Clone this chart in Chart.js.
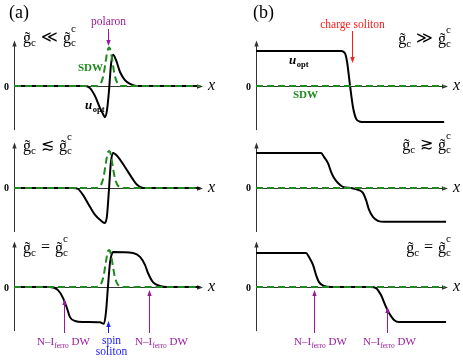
<!DOCTYPE html>
<html>
<head>
<meta charset="utf-8">
<script src="https://cdn.jsdelivr.net/npm/chart.js@4.4.0/dist/chart.umd.min.js"></script>
<style>
html, body { margin: 0; padding: 0; background: #fff; }
#wrap { position: relative; width: 463px; height: 361px; overflow: hidden; }
#wrap canvas { position: absolute; }
#probe { position: absolute; left: 0; top: 400px; font-family: "Liberation Serif"; }
</style>
</head>
<body>
<div id="wrap"></div>
<div id="probe">polaron <b>SDW</b> <i>x</i> <b><i>u</i></b></div>
<script>
// position along the chain: 0 = y axis, 100 = arrow tip; amplitude: plateau = 1
const aTopX = [0, 37.6, 40.2, 42.9, 45.5, 47.1, 48.1, 49.2, 50.3, 51.3, 52.4, 54.0, 56.1, 58.7, 61.4, 65.1, 98.5];
const aTopU = [0, 0, -0.06, -0.29, -0.63, -0.8, -0.89, -0.69, -0.11, 0.6, 0.89, 0.74, 0.4, 0.17, 0.06, 0, 0];

const aMidX = [0, 31.2, 33.9, 36.5, 40.2, 42.9, 45.5, 48.1, 49.2, 50.3, 51.3, 52.4, 55.0, 58.7, 62.4, 65.1, 68.3, 98.5];
const aMidU = [0, 0, -0.03, -0.2, -0.54, -0.77, -0.91, -1.0, -0.8, 0, 0.75, 1.0, 0.89, 0.6, 0.29, 0.09, 0, 0];

const aBotX = [0, 19.0, 23.3, 25.9, 28.0, 29.6, 32.3, 36.5, 45.5, 47.6, 48.7, 49.7, 50.8, 51.9, 52.4, 63.0, 66.7, 69.3, 70.9, 73.5, 77.2, 81.0, 98.5];
const aBotU = [0, 0, -0.09, -0.31, -0.6, -0.86, -0.97, -1.0, -1.01, -1.05, -0.7, 0, 0.7, 0.97, 1.0, 0.97, 0.86, 0.63, 0.4, 0.14, 0.03, 0, 0];

const bTopX = [0, 44.3, 46.4, 47.4, 49.0, 50.5, 52.1, 54.2, 56.8, 98];
const bTopU = [1.0, 1.0, 0.93, 0.7, 0, -0.6, -0.93, -1.02, -1.03, -1.03];

const bMidX = [0, 33.9, 35.4, 37.5, 39.1, 40.6, 42.7, 45.3, 49.5, 53.6, 55.7, 57.3, 58.9, 60.9, 63.5, 66.7, 99];
const bMidU = [1.0, 1.0, 0.89, 0.71, 0.46, 0.29, 0.14, 0.03, 0, -0.06, -0.14, -0.34, -0.63, -0.83, -0.94, -0.97, -0.97];

const bBotX = [0, 26.0, 27.6, 29.7, 31.3, 32.8, 35.4, 39.1, 59.9, 62.5, 65.1, 67.7, 69.3, 71.9, 74.5, 99];
const bBotU = [0.97, 0.97, 0.86, 0.63, 0.34, 0.14, 0.03, 0, 0, -0.03, -0.23, -0.57, -0.74, -0.94, -1.0, -1.0];

// SDW amplitude
const sdwPeakX = [0, 43.4, 45.0, 46.3, 47.4, 48.4, 49.2, 49.8, 50.3, 50.8, 51.4, 52.2, 53.2, 54.4, 55.6, 57.2, 98.5];
const sdwTop = [0, 0, 0.03, 0.12, 0.33, 0.66, 0.93, 1.06, 1.1, 1.06, 0.93, 0.66, 0.33, 0.12, 0.03, 0, 0];
const sdwMid = [0, 0, 0.03, 0.12, 0.32, 0.64, 0.9, 1.03, 1.06, 1.03, 0.9, 0.64, 0.32, 0.12, 0.03, 0, 0];
const sdwBot = [0, 0, 0.03, 0.12, 0.32, 0.64, 0.9, 1.03, 1.06, 1.03, 0.9, 0.64, 0.32, 0.12, 0.03, 0, 0];
const sdwFlatX = [0, 98.4];
const sdwFlat = [0, 0];

const SERIF = '"Liberation Serif"';
const GREEN = '#1f8a1f';
const PURPLE = '#9a1a9a';
const RED = '#ff1a1a';
const BLUE = '#1a1aff';
const AXIS = '#333';
const UNIT = 35, Y_MAX = 1.3, Y_MIN = -1.26;

const panels = [
  { box: [0, 0, 231, 132], x0: 14, x1: 203, zero: 86, ux: aTopX, uy: aTopU, sx: sdwPeakX, sy: sdwTop,
    tag: ['(a)', 9, 18], title: { x: 23, y: 43, rel: '\u226A' },
    uLabel: [85, 109], sdwLabel: [78, 71],
    notes: [{ at: 49.7, tail: 29, tip: 46, color: PURPLE, lines: ['polaron'], dx: 0, ty: 25 }] },
  { box: [231, 0, 232, 132], x0: 256, x1: 448, zero: 86, ux: bTopX, uy: bTopU, sx: sdwFlatX, sy: sdwFlat,
    tag: ['(b)', 253, 18], title: { right: 451, y: 44, rel: '\u226B' },
    uLabel: [289, 64], sdwLabel: [293, 98],
    notes: [{ at: 50.0, tail: 31, tip: 63, color: RED, lines: ['charge soliton'], dx: 0, ty: 28 }] },
  { box: [0, 132, 231, 100], x0: 14, x1: 203, zero: 188, ux: aMidX, uy: aMidU, sx: sdwPeakX, sy: sdwMid,
    title: { x: 23, y: 151, rel: '\u2272' }, notes: [] },
  { box: [231, 132, 232, 100], x0: 256, x1: 448, zero: 188, ux: bMidX, uy: bMidU, sx: sdwFlatX, sy: sdwFlat,
    title: { right: 451, y: 150, rel: '\u2273' }, notes: [] },
  { box: [0, 232, 231, 129], x0: 14, x1: 203, zero: 287, ux: aBotX, uy: aBotU, sx: sdwPeakX, sy: sdwBot,
    title: { x: 23, y: 253, rel: '=' },
    notes: [
      { at: 26.5, tail: 333, tip: 299, color: PURPLE, dw: true, dx: -1, ty: 345 },
      { at: 49.7, tail: 333, tip: 321, color: BLUE, lines: ['spin', 'soliton'], dx: 3, ty: 344 },
      { at: 71.4, tail: 333, tip: 290, color: PURPLE, dw: true, dx: 12, ty: 345 }
    ] },
  { box: [231, 232, 232, 129], x0: 256, x1: 448, zero: 287, ux: bBotX, uy: bBotU, sx: sdwFlatX, sy: sdwFlat,
    title: { right: 451, y: 253, rel: '=' },
    notes: [
      { at: 30.2, tail: 333, tip: 290, color: PURPLE, dw: true, dx: 6, ty: 345 },
      { at: 68.2, tail: 333, tip: 307, color: PURPLE, dw: true, dx: 2, ty: 345 }
    ] }
];

function pts(xs, ys) { return xs.map((x, i) => ({ x: x, y: ys[i] })); }

function arrowHead(ctx, x, y, dir, len, half) {
  ctx.beginPath();
  if (dir === 'up') { ctx.moveTo(x, y); ctx.lineTo(x - half, y + len); ctx.lineTo(x + half, y + len); }
  if (dir === 'down') { ctx.moveTo(x, y); ctx.lineTo(x - half, y - len); ctx.lineTo(x + half, y - len); }
  if (dir === 'right') { ctx.moveTo(x, y); ctx.lineTo(x - len, y - half); ctx.lineTo(x - len, y + half); }
  ctx.closePath();
  ctx.fill();
}

function gTerm(ctx, x, y, sup, draw) {
  ctx.font = '16px ' + SERIF;
  const gw = ctx.measureText('g').width;
  if (draw) {
    ctx.fillText('g', x, y);
    const tw = ctx.measureText('\u02DC').width;
    ctx.fillText('\u02DC', x + (gw - tw) / 2 + 0.5, y - 0.5);
  }
  ctx.font = '11px ' + SERIF;
  const cw = ctx.measureText('c').width;
  if (draw) {
    ctx.fillText('c', x + gw, y + 3);
    if (sup) ctx.fillText('c', x + gw, y - 11);
  }
  return gw + cw;
}

function drawTitle(ctx, t) {
  const gap = 5;
  ctx.font = '16px ' + SERIF;
  const rw = ctx.measureText(t.rel).width;
  const w = gTerm(ctx, 0, 0, false, false) * 2 + rw + gap * 2;
  let x = t.right !== undefined ? t.right - w : t.x;
  ctx.fillStyle = '#000';
  ctx.textAlign = 'left';
  x += gTerm(ctx, x, t.y, false, true) + gap;
  ctx.font = '16px ' + SERIF;
  ctx.fillText(t.rel, x, t.y - 1);
  x += rw + gap;
  gTerm(ctx, x, t.y, true, true);
}

function dwLabel(ctx, cx, y) {
  const big = '11px ' + SERIF, small = '7.5px ' + SERIF;
  ctx.font = big; const w1 = ctx.measureText('N\u2013I').width;
  ctx.font = small; const w2 = ctx.measureText('ferro').width;
  ctx.font = big; const w3 = ctx.measureText(' DW').width;
  let x = cx - (w1 + w2 + w3) / 2;
  ctx.textAlign = 'left';
  ctx.font = big; ctx.fillText('N\u2013I', x, y); x += w1;
  ctx.font = small; ctx.fillText('ferro', x, y + 3); x += w2;
  ctx.font = big; ctx.fillText(' DW', x, y);
}

function panelPlugin(p) {
  return {
    id: 'panelDecor',
    beforeDatasetsDraw(chart) {
      const ctx = chart.ctx, a = chart.chartArea;
      const zy = Math.round(chart.scales.y.getPixelForValue(0)) + 0.5;
      const ax = Math.round(a.left) + 0.5;
      ctx.save();
      ctx.strokeStyle = AXIS; ctx.fillStyle = AXIS; ctx.lineWidth = 1;
      ctx.beginPath();
      ctx.moveTo(ax, a.bottom); ctx.lineTo(ax, a.top + 4);
      ctx.moveTo(ax, zy); ctx.lineTo(a.right - 4, zy);
      ctx.stroke();
      arrowHead(ctx, ax, a.top, 'up', 6, 2.2);
      arrowHead(ctx, a.right, zy, 'right', 6, 2.2);
      ctx.restore();
    },
    afterDraw(chart) {
      const ctx = chart.ctx, a = chart.chartArea;
      const ox = p.box[0], oy = p.box[1];
      const zy = chart.scales.y.getPixelForValue(0);
      ctx.save();
      ctx.translate(-ox, -oy);
      ctx.textBaseline = 'alphabetic';
      ctx.fillStyle = '#000';
      ctx.font = 'bold 10px ' + SERIF;
      ctx.textAlign = 'right';
      ctx.fillText('0', a.left + ox - 5, zy + oy + 3.5);
      ctx.font = 'italic 16px ' + SERIF;
      ctx.textAlign = 'left';
      ctx.fillText('x', a.right + ox + 5, zy + oy + 4);
      if (p.tag) {
        ctx.font = '18px ' + SERIF;
        ctx.fillText(p.tag[0], p.tag[1], p.tag[2]);
      }
      drawTitle(ctx, p.title);
      if (p.uLabel) {
        const [ux, uy] = p.uLabel;
        ctx.fillStyle = '#000';
        ctx.textAlign = 'left';
        ctx.font = 'bold italic 13px ' + SERIF;
        ctx.fillText('u', ux, uy);
        const w = ctx.measureText('u').width;
        ctx.font = 'bold 8.5px ' + SERIF;
        ctx.fillText('opt', ux + w + 0.5, uy + 3);
      }
      if (p.sdwLabel) {
        ctx.fillStyle = GREEN;
        ctx.font = 'bold 11px ' + SERIF;
        ctx.textAlign = 'left';
        ctx.fillText('SDW', p.sdwLabel[0], p.sdwLabel[1]);
      }
      p.notes.forEach(n => {
        const x = Math.round(chart.scales.x.getPixelForValue(n.at) + ox) + 0.5;
        ctx.strokeStyle = n.color; ctx.fillStyle = n.color; ctx.lineWidth = 1;
        const down = n.tip > n.tail;
        ctx.beginPath();
        ctx.moveTo(x, n.tail);
        ctx.lineTo(x, down ? n.tip - 4 : n.tip + 4);
        ctx.stroke();
        arrowHead(ctx, x, n.tip, down ? 'down' : 'up', 6, 2.2);
        if (n.dw) {
          dwLabel(ctx, x + n.dx, n.ty);
        } else {
          ctx.font = '11.5px ' + SERIF;
          ctx.textAlign = 'center';
          n.lines.forEach((s, i) => ctx.fillText(s, x + n.dx, n.ty + i * 11));
        }
      });
      ctx.restore();
    }
  };
}

const wrap = document.getElementById('wrap');
panels.forEach(p => {
  const cv = document.createElement('canvas');
  cv.width = p.box[2]; cv.height = p.box[3];
  cv.style.left = p.box[0] + 'px'; cv.style.top = p.box[1] + 'px';
  wrap.appendChild(cv);
  const top = p.zero - Y_MAX * UNIT, bottom = p.zero - Y_MIN * UNIT;
  new Chart(cv.getContext('2d'), {
    type: 'line',
    data: {
      datasets: [
        { label: 'SDW', data: pts(p.sx, p.sy), borderColor: GREEN, borderWidth: 2, borderDash: [7, 4],
          pointRadius: 0, cubicInterpolationMode: 'monotone', order: 0 },
        { label: 'u_opt', data: pts(p.ux, p.uy), borderColor: '#000', borderWidth: 2,
          pointRadius: 0, cubicInterpolationMode: 'monotone', order: 1 }
      ]
    },
    options: {
      responsive: false,
      animation: false,
      events: [],
      layout: { padding: {
        left: p.x0 - p.box[0], right: p.box[0] + p.box[2] - p.x1,
        top: top - p.box[1], bottom: p.box[1] + p.box[3] - bottom } },
      scales: {
        x: { type: 'linear', min: 0, max: 100, display: false },
        y: { min: Y_MIN, max: Y_MAX, display: false }
      },
      plugins: { legend: { display: false }, tooltip: { enabled: false } }
    },
    plugins: [panelPlugin(p)]
  });
});
</script>
</body>
</html>
